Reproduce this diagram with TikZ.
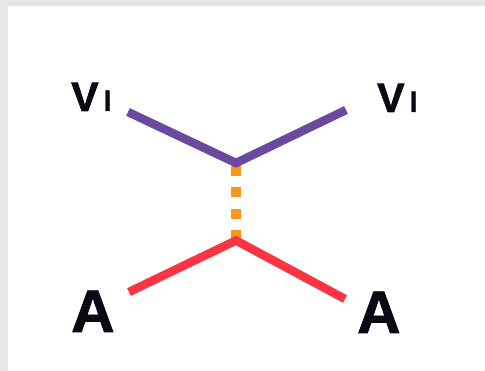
\documentclass[tikz,border=0pt]{standalone}
\usepackage{fontspec}
\setmainfont{Liberation Sans}[BoldFeatures={FakeBold=1.5}]
\definecolor{framegray}{HTML}{E6E6E6}
\definecolor{vpurple}{HTML}{6A4A9E}
\definecolor{ared}{HTML}{FA3440}
\definecolor{mediator}{HTML}{F8961E}
\definecolor{labelink}{HTML}{0A0A14}
\tikzset{
  leg/.style={line width=8.5pt, line join=miter, line cap=butt},
  propagator/.style={line width=10pt, color=mediator, dash pattern=on 10pt off 11.5pt, line cap=butt},
  biglabel/.style={inner sep=0pt, anchor=base west, text=labelink, font=\bfseries\fontsize{60}{60}\selectfont},
  vlabel/.style={inner sep=0pt, anchor=base west, text=labelink},
}
\newcommand{\Vsub}{{\bfseries\fontsize{41}{41}\selectfont V}\kern5pt{\bfseries\fontsize{28}{28}\selectfont l}}
\begin{document}
\begin{tikzpicture}[x=1pt, y=-1pt]
  % frame and canvas
  \fill[framegray] (0,0) rectangle (485,371);
  \fill[white] (8,6) rectangle (485,371);
  \useasboundingbox (0,0) rectangle (485,371);

  % vertices and leg ends
  \coordinate (top) at (236,163);
  \coordinate (topd) at (236,166);
  \coordinate (bot) at (236,240.5);
  \coordinate (v1) at (128,112);
  \coordinate (v2) at (346,110);
  \coordinate (a1) at (129,292);
  \coordinate (a2) at (345,299);

  % dashed propagator between the vertices
  \draw[propagator] (topd) -- (bot);

  % external legs
  \draw[leg, vpurple] (v1) -- (top) -- (v2);
  \draw[leg, ared] (a1) -- (bot) -- (a2);

  % labels
  \node[vlabel] (lv1) at (71,111) {\Vsub};
  \node[vlabel] (lv2) at (377,112) {\Vsub};
  \node[biglabel] (la1) at (71,332) {A};
  \node[biglabel] (la2) at (357,333) {A};
\end{tikzpicture}
\end{document}
